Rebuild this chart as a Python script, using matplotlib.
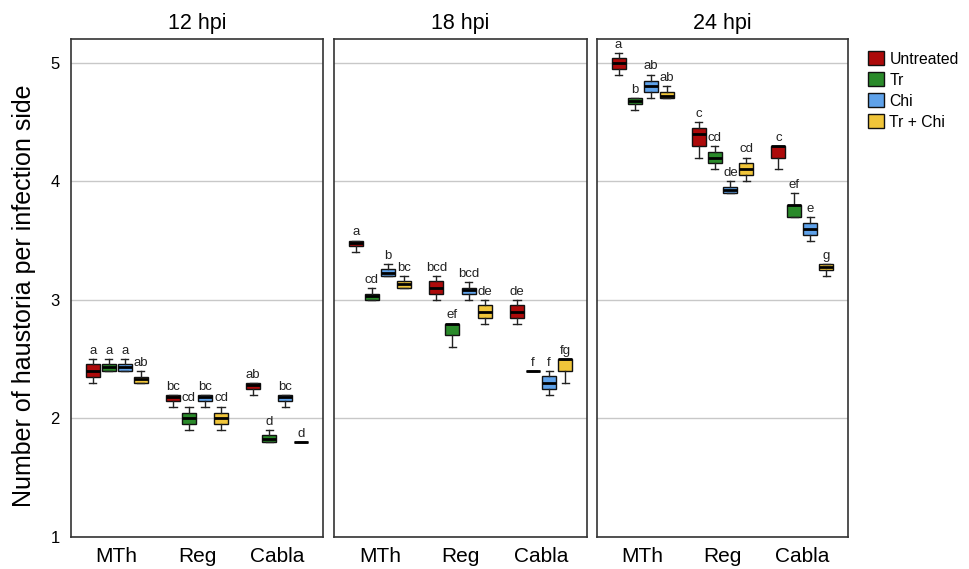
import matplotlib
matplotlib.use("Agg")
import matplotlib.pyplot as plt
from matplotlib.patches import Patch

plt.rcParams["font.family"] = ["Liberation Sans", "DejaVu Sans"]

# ---- data -------------------------------------------------------------
timepoints = ["12 hpi", "18 hpi", "24 hpi"]
groups = ["MTh", "Reg", "Cabla"]
treatments = ["Untreated", "Tr", "Chi", "Tr + Chi"]
colors = ["#ad0a0a", "#2a8a2a", "#5fa2ea", "#f0c53a"]

# five-number summaries (lower whisker, Q1, median, Q3, upper whisker),
# ordered group by group, treatment by treatment
stats_12hpi = [
    (2.30, 2.35, 2.40, 2.46, 2.50), (2.40, 2.40, 2.43, 2.46, 2.50),
    (2.40, 2.40, 2.43, 2.46, 2.50), (2.30, 2.30, 2.33, 2.35, 2.40),
    (2.10, 2.15, 2.18, 2.20, 2.20), (1.90, 1.95, 2.00, 2.05, 2.10),
    (2.10, 2.15, 2.18, 2.20, 2.20), (1.90, 1.95, 2.00, 2.05, 2.10),
    (2.20, 2.25, 2.28, 2.30, 2.30), (1.80, 1.80, 1.83, 1.86, 1.90),
    (2.10, 2.15, 2.18, 2.20, 2.20), (1.80, 1.80, 1.80, 1.80, 1.80),
]
stats_18hpi = [
    (3.40, 3.45, 3.48, 3.50, 3.50), (3.00, 3.00, 3.03, 3.05, 3.10),
    (3.20, 3.20, 3.23, 3.26, 3.30), (3.10, 3.10, 3.13, 3.16, 3.20),
    (3.00, 3.05, 3.10, 3.16, 3.20), (2.60, 2.70, 2.80, 2.80, 2.80),
    (3.00, 3.05, 3.08, 3.10, 3.15), (2.80, 2.85, 2.90, 2.96, 3.00),
    (2.80, 2.85, 2.90, 2.96, 3.00), (2.40, 2.40, 2.40, 2.40, 2.40),
    (2.20, 2.25, 2.30, 2.36, 2.40), (2.30, 2.40, 2.50, 2.50, 2.50),
]
stats_24hpi = [
    (4.90, 4.95, 5.00, 5.04, 5.08), (4.60, 4.65, 4.68, 4.70, 4.70),
    (4.70, 4.75, 4.80, 4.85, 4.90), (4.70, 4.70, 4.72, 4.75, 4.80),
    (4.20, 4.30, 4.40, 4.45, 4.50), (4.10, 4.15, 4.20, 4.25, 4.30),
    (3.90, 3.90, 3.93, 3.95, 4.00), (4.00, 4.05, 4.10, 4.15, 4.20),
    (4.10, 4.20, 4.30, 4.30, 4.30), (3.70, 3.70, 3.80, 3.80, 3.90),
    (3.50, 3.55, 3.60, 3.65, 3.70), (3.20, 3.25, 3.28, 3.30, 3.30),
]

# significance groups
letters_12hpi = ["a", "a", "a", "ab", "bc", "cd", "bc", "cd", "ab", "d", "bc", "d"]
letters_18hpi = ["a", "cd", "b", "bc", "bcd", "ef", "bcd", "de", "de", "f", "f", "fg"]
letters_24hpi = ["a", "b", "ab", "ab", "c", "cd", "de", "cd", "c", "ef", "e", "g"]

yticks = [1, 2, 3, 4, 5]

panel_stats = [stats_12hpi, stats_18hpi, stats_24hpi]
panel_letters = [letters_12hpi, letters_18hpi, letters_24hpi]

# ---- layout -----------------------------------------------------------
W, H = 970, 569
fig = plt.figure(figsize=(W / 100, H / 100), dpi=100)

panel_px = [(71, 323), (334, 587), (597, 848)]
top_px, bottom_px = 39, 537

offsets = [-0.3, -0.1, 0.1, 0.3]
box_w = 0.175
frame_col = "#333333"

for k, (x0, x1) in enumerate(panel_px):
    ax = fig.add_axes([x0 / W, (H - bottom_px) / H, (x1 - x0) / W,
                       (bottom_px - top_px) / H])
    stats = panel_stats[k]
    letters = panel_letters[k]

    bxp_stats, positions, facecols = [], [], []
    for gi in range(len(groups)):
        for ti in range(len(treatments)):
            lo, q1, med, q3, hi = stats[gi * len(treatments) + ti]
            bxp_stats.append(dict(whislo=lo, q1=q1, med=med, q3=q3,
                                  whishi=hi, fliers=[]))
            positions.append(gi + 1 + offsets[ti])
            facecols.append(colors[ti])

    bp = ax.bxp(bxp_stats, positions=positions, widths=box_w,
                patch_artist=True, showfliers=False,
                capwidths=0.09,
                boxprops=dict(edgecolor="#111111", linewidth=1.0),
                medianprops=dict(color="#000000", linewidth=2.0),
                whiskerprops=dict(color="#222222", linewidth=1.0),
                capprops=dict(color="#222222", linewidth=1.0),
                zorder=3)
    for patch, fc in zip(bp["boxes"], facecols):
        patch.set_facecolor(fc)

    for pos, st, lab in zip(positions, bxp_stats, letters):
        ax.annotate(lab, (pos, st["whishi"]), xytext=(0, 1.5),
                    textcoords="offset points", ha="center", va="bottom",
                    fontsize=9.5, color="#222222", zorder=4)

    ax.set_xlim(0.43, 3.57)
    ax.set_ylim(1, 5.2)
    ax.set_xticks(range(1, len(groups) + 1))
    ax.set_xticklabels(groups, fontsize=15)
    ax.set_yticks(yticks)
    if k == 0:
        ax.set_yticklabels([str(t) for t in yticks], fontsize=12)
        ax.set_ylabel("Number of haustoria per infection side", fontsize=18)
        ax.yaxis.set_label_coords(-0.139, 0.484)
    else:
        ax.set_yticklabels([])
    ax.tick_params(axis="x", length=0, pad=7)
    ax.tick_params(axis="y", length=0, pad=8)
    ax.grid(axis="y", color="#c8c8c8", linewidth=1.0, zorder=0)
    ax.set_axisbelow(True)
    for sp in ax.spines.values():
        sp.set_color(frame_col)
        sp.set_linewidth(1.2)
    ax.set_title(timepoints[k], fontsize=15.5, pad=7)

handles = [Patch(facecolor=c, edgecolor="#111111", linewidth=1.0) for c in colors]
fig.legend(handles, treatments, loc="upper left",
           bbox_to_anchor=(862 / W, 1 - 45 / H), frameon=False,
           fontsize=11.3, handlelength=1.0, handleheight=1.0,
           handletextpad=0.35, labelspacing=0.36, borderaxespad=0)

fig.savefig("out.png", dpi=100)
